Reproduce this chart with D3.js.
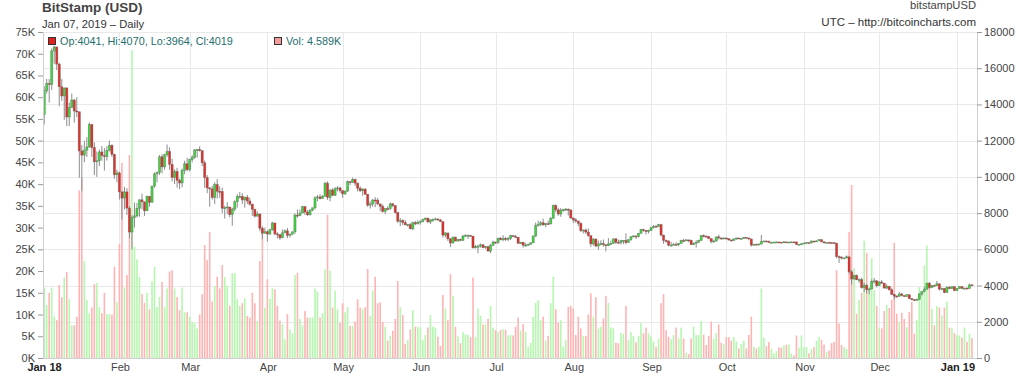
<!DOCTYPE html>
<html>
<head>
<meta charset="utf-8">
<script src="https://cdn.jsdelivr.net/npm/d3@7"></script>
<style>
 body { margin: 0; background: #fff; }
 svg { display: block; font-family: "Liberation Sans", Arial, sans-serif; }
</style>
</head>
<body>
<svg id="chart" width="1024" height="383"></svg>
<script>
// daily candles, BitStamp BTC/USD, Jan 1 2018 .. Jan 7 2019 (one value per day)
var firstDay = '2018-01-01';

var opens = [
 13880,13444,14754,15156,15100,16954,17172,16228,14976,14469,14907,13308,13842,14243,13639,13596,11431,11199,11475,11656,12900,11620,10834,10889,11378,11176,11120,11462,11742,11245,10118,
 10221,9170,8830,9174,8277,6955,7755,7850,8265,8736,8621,8130,8926,8598,9494,10166,10233,11112,10551,11225,11403,10690,9964,10301,9813,9664,10366,10725,
 10397,10951,11086,11489,11513,11450,10779,9965,9395,9337,8866,9578,9205,9194,8269,8300,8338,7916,8223,8630,8913,8929,8728,8879,8668,8495,8209,7833,7954,7165,6890,
 6973,6844,7083,7456,6853,6811,6636,6911,7023,6770,6834,6968,7889,7870,8003,8355,8058,7902,8163,8294,8845,8895,8802,8930,9652,8864,9279,8979,9342,9392,
 9244,9067,9219,9738,9700,9858,9655,9373,9235,9325,9043,8441,8505,8723,8716,8510,8368,8094,8250,8247,8513,8418,8041,7557,7587,7480,7355,7368,7135,7472,7406,
 7494,7541,7643,7720,7514,7633,7653,7678,7624,7531,6786,6906,6582,6349,6675,6456,6550,6499,6734,6769,6776,6729,6083,6162,6173,6250,6093,6157,5903,6218,
 6404,6385,6614,6529,6597,6540,6603,6756,6710,6670,6329,6394,6228,6238,6276,6359,6741,7321,7370,7467,7354,7419,7400,7711,8424,8182,7951,8165,8200,8218,8180,
 7730,7625,7567,7434,7032,7068,6951,6753,6305,6568,6184,6295,6322,6255,6199,6308,6334,6580,6390,6375,6480,6490,6376,6534,6700,6740,6707,6890,7096,7047,6978,
 7037,7193,7272,7260,7361,6792,6490,6467,6225,6239,6276,6260,6326,6488,6486,6520,6502,6259,6335,6388,6488,6756,6721,6710,6596,6434,6454,6688,6633,6592,
 6626,6590,6520,6482,6574,6627,6576,6602,6660,6630,6575,6234,6281,6280,6291,6440,6460,6446,6378,6379,6400,6406,6396,6391,6412,6400,6402,6411,6410,6268,6276,
 6309,6348,6373,6355,6460,6420,6470,6535,6415,6356,6383,6375,6370,6340,5600,5575,5515,5523,5588,4757,4362,4556,4322,4324,3882,4008,3772,3809,4220,4259,
 3996,4196,4135,3863,3962,3763,3504,3418,3403,3534,3450,3400,3495,3278,3220,3198,3222,3535,3670,3800,4133,3887,4010,3990,4100,3800,3840,3610,3910,3830,3940,
 3718,3844,3943,3837,3859,3837,4041
];

var highs = [
 13950,15000,15400,15400,17100,17252,17200,16300,15400,14950,14950,14100,14600,14300,14400,13600,11750,12000,12200,13000,12900,11900,11400,11500,11700,11600,11700,12000,11800,11280,10400,
 10300,9200,9450,9380,8390,7880,8580,8560,8750,9080,8630,8980,8940,9500,10250,10300,11200,11250,11280,11790,11630,11000,10420,10500,9900,10460,10890,11060,
 11000,11200,11530,11550,11690,11450,10900,10100,9420,9500,9700,9880,9480,9400,8400,8600,8350,8300,8700,9050,9170,9100,8900,9000,8850,8520,8250,8100,7970,7280,7200,
 7050,7130,7520,7460,6950,6850,7100,7100,7180,6880,6980,8000,8200,8200,8400,8400,8160,8220,8300,8930,9000,9050,8990,9730,9760,9300,9380,9440,9500,9450,
 9250,9250,9800,9760,9950,9900,9680,9480,9370,9380,9040,8650,8770,8880,8840,8510,8480,8270,8380,8580,8560,8420,8040,7730,7660,7610,7400,7450,7530,7560,7600,
 7600,7700,7760,7750,7660,7700,7750,7700,7680,7540,6950,6910,6620,6700,6690,6580,6590,6800,6840,6820,6790,6740,6240,6260,6320,6280,6180,6170,6300,6480,
 6420,6640,6680,6780,6690,6680,6800,6780,6790,6680,6400,6400,6340,6320,6400,6750,7480,7590,7560,7690,7450,7580,7790,8470,8480,8300,8280,8230,8280,8260,8180,
 7760,7720,7570,7490,7090,7150,7150,6760,6620,6600,6480,6500,6540,6260,6620,6480,6590,6620,6540,6530,6500,6880,6540,6720,6780,6760,6900,7130,7140,7060,7080,
 7240,7340,7340,7410,7400,6800,6540,6480,6420,6350,6390,6340,6530,6580,6560,6530,6540,6380,6500,6530,6780,6830,6780,6720,6600,6540,6700,6800,6640,6650,
 6660,6610,6530,6600,6640,6630,6620,6690,6660,6630,6580,6300,6310,6330,6800,6480,6480,6480,6420,6420,6440,6420,6410,6460,6420,6420,6430,6420,6420,6300,6330,
 6370,6400,6380,6490,6460,6480,6550,6540,6430,6390,6400,6380,6380,6360,5660,5600,5550,5660,5590,4870,4600,4610,4400,4440,4160,4100,3860,4340,4420,4310,
 4250,4310,4140,4070,3970,3880,3560,3470,3640,3600,3460,3530,3500,3300,3240,3290,3580,3680,3930,4150,4200,4030,4050,4250,4100,3890,3850,3950,3960,3970,3950,
 3860,3960,3950,3880,3900,4100,4070
];

var lows = [
 12750,12900,14600,14100,14800,16250,15900,13900,14200,13150,12800,12800,13800,13000,13300,9950,9200,10800,11100,11600,11100,10100,10000,10600,10900,10350,10900,11400,11100,9900,9700,
 8750,7650,8200,7900,6600,6000,7200,7750,7800,8200,7850,8130,8360,8560,9400,9700,10100,10200,10400,11100,10400,9750,9600,9400,9320,9420,10150,10300,
 10300,10800,11000,11050,11400,10600,9400,9100,8350,8750,8500,8800,8850,8000,7700,7950,7770,7300,8100,8300,8800,8500,8300,8500,8400,7850,7750,7800,7000,6560,6860,
 6430,6800,7020,6770,6600,6520,6610,6900,6620,6660,6800,6850,7750,7830,8000,7900,7850,7880,8100,8200,8650,8750,8800,8920,8730,8650,8960,8950,9200,9120,
 8850,9000,9170,9550,9680,9500,9200,9160,8960,9010,8350,8250,8350,8330,8450,8110,8030,7940,8150,8180,8330,7970,7450,7280,7340,7330,7250,7100,7060,7330,7380,
 7360,7480,7600,7460,7400,7520,7640,7560,7500,6650,6660,6460,6120,6320,6450,6420,6450,6450,6700,6570,6700,6050,6050,5780,6100,6060,6030,5880,5790,6200,
 6300,6290,6500,6440,6460,6450,6520,6690,6660,6320,6300,6100,6150,6200,6260,6340,6680,7250,7280,7300,7220,7380,7390,7700,8050,7850,7800,8070,8120,7870,7700,
 7450,7470,7280,6950,6880,6850,6690,6130,6200,6110,5970,6220,6150,5880,6180,6240,6310,6290,6310,6260,6290,6280,6350,6470,6670,6570,6650,6860,6980,6820,6880,
 7010,7150,7220,7240,6700,6300,6360,6170,6150,6230,6200,6180,6320,6400,6470,6400,6250,6240,6100,6370,6480,6660,6680,6560,6330,6400,6440,6540,6520,6560,
 6560,6480,6420,6470,6530,6560,6550,6580,6600,6500,6150,6200,6260,6260,6270,6410,6420,6360,6360,6370,6390,6380,6350,6380,6380,6380,6395,6395,6230,6250,6250,
 6290,6330,6330,6330,6380,6400,6460,6390,6330,6350,6340,6330,6300,5500,5250,5450,5480,5510,4650,4050,4330,4300,4150,3830,3650,3560,3520,3800,4110,3900,
 3980,4100,3830,3800,3740,3490,3230,3340,3400,3400,3370,3390,3250,3180,3150,3180,3210,3440,3650,3770,3820,3850,3940,3980,3740,3740,3580,3600,3800,3820,3690,
 3700,3820,3800,3780,3820,3820,3964
];

var closes = [
 13444,14754,15156,15100,16954,17172,16228,14976,14469,14907,13308,13842,14243,13639,13596,11431,11199,11475,11656,12900,11620,10834,10889,11378,11176,11120,11462,11742,11245,10118,10221,
 9170,8830,9174,8277,6955,7755,7850,8265,8736,8621,8130,8926,8598,9494,10166,10233,11112,10551,11225,11403,10690,9964,10301,9813,9664,10366,10725,10397,
 10951,11086,11489,11513,11450,10779,9965,9395,9337,8866,9578,9205,9194,8269,8300,8338,7916,8223,8630,8913,8929,8728,8879,8668,8495,8209,7833,7954,7165,6890,6973,
 6844,7083,7456,6853,6811,6636,6911,7023,6770,6834,6968,7889,7870,8003,8355,8058,7902,8163,8294,8845,8895,8802,8930,9652,8864,9279,8979,9342,9392,9244,
 9067,9219,9738,9700,9858,9655,9373,9235,9325,9043,8441,8505,8723,8716,8510,8368,8094,8250,8247,8513,8418,8041,7557,7587,7480,7355,7368,7135,7472,7406,7494,
 7541,7643,7720,7514,7633,7653,7678,7624,7531,6786,6906,6582,6349,6675,6456,6550,6499,6734,6769,6776,6729,6083,6162,6173,6250,6093,6157,5903,6218,6404,
 6385,6614,6529,6597,6540,6603,6756,6710,6670,6329,6394,6228,6238,6276,6359,6741,7321,7370,7467,7354,7419,7400,7711,8424,8182,7951,8165,8200,8218,8180,7730,
 7625,7567,7434,7032,7068,6951,6753,6305,6568,6184,6295,6322,6255,6199,6308,6334,6580,6390,6375,6480,6490,6376,6534,6700,6740,6707,6890,7096,7047,6978,7037,
 7193,7272,7260,7361,6792,6490,6467,6225,6239,6276,6260,6326,6488,6486,6520,6502,6259,6335,6388,6488,6756,6721,6710,6596,6434,6454,6688,6633,6592,6626,
 6590,6520,6482,6574,6627,6576,6602,6660,6630,6575,6234,6281,6280,6291,6440,6460,6446,6378,6379,6400,6406,6396,6391,6412,6400,6402,6411,6410,6268,6276,6309,
 6348,6373,6355,6460,6420,6470,6535,6415,6356,6383,6375,6370,6340,5600,5575,5515,5523,5588,4757,4362,4556,4322,4324,3882,4008,3772,3809,4220,4259,3996,
 4196,4135,3863,3962,3763,3504,3418,3403,3534,3450,3400,3495,3278,3220,3198,3222,3535,3670,3800,4133,3887,4010,3990,4100,3800,3840,3610,3910,3830,3940,3718,
 3844,3943,3837,3859,3837,4041,4019
];

// volume in thousands of BTC
var volumes = [
 9,16.2,12.2,15,16.2,9.5,8.7,16.8,14,18.5,19.8,13.5,7.5,7.5,9.5,38.6,41.4,22.3,13.3,10.3,11.6,17,17.3,11.7,10.3,15,10.1,10.1,10,21,12.8,
 26.2,44.9,16.2,19.1,46.7,70.8,25.6,22.7,18.6,14.7,12.7,15,11.2,17.6,21,11.7,14,17.5,11.7,16,19.9,20.2,16,14,11,16.2,10.5,10.5,
 9.5,8.3,8,6.8,10,14.7,26,22.5,29,13,16.6,18.7,16,21.4,18.6,16.6,12,19.5,19.5,13.5,12,12.6,13.7,9.7,9.3,15,12.6,8.5,22.3,30,11.6,
 18.1,13.6,16,15.8,12,8.6,7.8,4.3,10.1,6.6,5.7,19.1,19.6,9,7.5,10.8,9.3,9.3,9.3,16,15.3,9.3,10.3,20.4,33,20.1,11.6,15.5,11.2,8.1,
 12.6,10.5,11.7,7.4,7.4,8.4,13.5,11.6,11.2,11.7,20.5,9.7,15.5,18.7,12.6,12.8,8.3,7.2,4,5.1,6.3,9,17.7,11.7,9.9,3.2,4.1,6.6,11,7.2,7.2,
 7,4.1,5.3,7,9.9,7.2,7,4.9,2.8,14.5,11.4,8.7,19.3,14.3,7.2,5,3.4,5.9,5.4,5.3,4.8,18.5,4.8,11.4,9.7,7.7,7.7,9,12,7,
 6.4,6,6.4,6.6,6.5,5.2,5.3,5.2,7.2,9.3,6.3,7.8,6,2.5,3.5,9.5,12.7,13.3,8.7,9.5,4,5.1,12.6,18.7,11.2,8.1,8.7,2.6,4.1,11.8,12,
 11.4,5.3,9.5,6.8,5.1,5.1,10,14.9,9.5,14,6.8,7.2,9.1,14.3,12.7,7,6.8,3.5,3.4,5.8,5.5,12,4.1,6,5.1,3.6,5.1,8,5.7,7,5.7,
 5,3.8,2.5,4.5,12.6,14.7,6.4,4.9,4.3,5.3,7,4.5,7,4.5,1.2,0.9,4.5,7.2,5.3,5.3,8.5,5.4,3,5.1,8.4,4.4,5.7,7.7,3.5,3.2,
 4.8,4.8,4,4.8,3.8,2.2,3.2,4,2.2,5.3,9.5,2.6,2.2,2.6,16,4.7,2.7,3.7,2.1,1.1,1.6,2.4,2.4,2.9,3.1,3.1,1,0.6,5.2,2.4,5.2,
 2.5,2.5,1.1,2.1,2.5,4,4.8,4.2,3.1,1.4,1.7,3.4,3.7,20.2,7.9,3,2.5,2.1,29,39.8,20.6,10.2,13.3,15,27,24.2,16.3,22.9,15.6,12,
 7,6.8,10.8,12.2,11.5,13.4,26.5,10.2,8.3,10.4,9,7.1,10.6,12.9,5.6,8.7,16.3,15.2,21.3,25.9,17.1,11.3,7.5,11.9,11.6,9.8,11.6,13,7,6.8,5.7,
 5.2,5.2,4.7,7,3.7,5.6,4.589
];

var priceTicks = [0,2000,4000,6000,8000,10000,12000,14000,16000,18000];
var volumeTicks = [0,5,10,15,20,25,30,35,40,45,50,55,60,65,70,75];
var monthLabels = ['Jan 18','Feb','Mar','Apr','May','Jun','Jul','Aug','Sep','Oct','Nov','Dec','Jan 19'];

var titleText = 'BitStamp (USD)';
var subText = 'Jan 07, 2019 \u2013 Daily';
var symbolText = 'bitstampUSD';
var sourceText = 'UTC \u2013 http://bitcoincharts.com';
var legendText = 'Op:4041, Hi:4070, Lo:3964, Cl:4019';
var volLegendText = 'Vol: 4.589K';

// plot frame
var plot = { left: 43, right: 977, top: 32, bottom: 358 };
var upColor = '#3fd33f', downColor = '#e0312b';
var upVol = '#b4f7ae', downVol = '#ffb3b3';

var start = d3.utcParse('%Y-%m-%d')(firstDay);
var days = closes.map(function(c, i) {
 return { date: d3.utcDay.offset(start, i), o: opens[i], h: highs[i], l: lows[i], c: c, v: volumes[i] };
});

var svg = d3.select('#chart');

var x = d3.scaleUtc()
 .domain([new Date(Date.UTC(2018, 0, 1, 12, 30)), new Date(Date.UTC(2019, 0, 9))])
 .range([plot.left, plot.right]);
var yPrice = d3.scaleLinear().domain([0, 18000]).range([plot.bottom, plot.top]);
var yVol = d3.scaleLinear().domain([0, 75]).range([plot.bottom, plot.top]);

svg.append('defs').append('clipPath').attr('id', 'plotClip')
 .append('rect')
 .attr('x', plot.left).attr('y', plot.top)
 .attr('width', plot.right - plot.left).attr('height', plot.bottom - plot.top);

// grid
var grid = svg.append('g').attr('class', 'grid');
grid.selectAll('line.h').data(priceTicks).enter().append('line')
 .attr('x1', plot.left).attr('x2', plot.right)
 .attr('y1', function(d) { return Math.round(yPrice(d)) + 0.5; })
 .attr('y2', function(d) { return Math.round(yPrice(d)) + 0.5; })
 .style('stroke', '#e9e9e9');

var monthStarts = d3.utcMonths(new Date(Date.UTC(2018, 0, 1)), new Date(Date.UTC(2019, 0, 2)));
grid.selectAll('line.v').data(monthStarts.filter(function(d) { return x(d) > plot.left; }))
 .enter().append('line')
 .attr('x1', function(d) { return Math.round(x(d)) + 0.5; })
 .attr('x2', function(d) { return Math.round(x(d)) + 0.5; })
 .attr('y1', plot.top).attr('y2', plot.bottom)
 .style('stroke', '#e9e9e9');

var marks = svg.append('g').attr('clip-path', 'url(#plotClip)');

// volume bars (behind candles)
marks.append('g').selectAll('rect').data(days).enter().append('rect')
 .attr('x', function(d) { return x(d.date) - 0.8; })
 .attr('width', 1.6)
 .attr('y', function(d) { return yVol(d.v); })
 .attr('height', function(d) { return plot.bottom - yVol(d.v); })
 .style('fill', function(d) { return d.c >= d.o ? upVol : downVol; });

// candles: wick + body
var candle = marks.append('g').selectAll('g').data(days).enter().append('g');
candle.append('line')
 .attr('x1', function(d) { return x(d.date); })
 .attr('x2', function(d) { return x(d.date); })
 .attr('y1', function(d) { return yPrice(d.h); })
 .attr('y2', function(d) { return yPrice(d.l); })
 .style('stroke', '#8c8c8c')
 .style('stroke-width', '1px');
candle.append('rect')
 .attr('x', function(d) { return x(d.date) - 1.1; })
 .attr('width', 2.2)
 .attr('y', function(d) { return yPrice(Math.max(d.o, d.c)); })
 .attr('height', function(d) { return Math.max(1, Math.abs(yPrice(d.o) - yPrice(d.c))); })
 .style('fill', function(d) { return d.c >= d.o ? upColor : downColor; })
 .style('stroke', 'rgba(90,90,90,0.55)')
 .style('stroke-width', '0.6px');

// axes
var axisColor = '#cfcfcf';
var leftAxis = svg.append('g')
 .attr('transform', 'translate(' + plot.left + ',0)')
 .call(d3.axisLeft(yVol).tickValues(volumeTicks).tickSize(5).tickPadding(3)
  .tickFormat(function(d) { return d + 'K'; }));
var rightAxis = svg.append('g')
 .attr('transform', 'translate(' + plot.right + ',0)')
 .call(d3.axisRight(yPrice).tickValues(priceTicks).tickSize(5).tickPadding(2)
  .tickFormat(d3.format('d')));
[leftAxis, rightAxis].forEach(function(a) {
 a.select('.domain').style('stroke', axisColor);
 a.selectAll('.tick line').style('stroke', '#999');
 a.selectAll('.tick text').style('fill', '#444').style('font-size', '11px')
  .style('font-family', '"Liberation Sans", Arial, sans-serif');
});

svg.append('line')
 .attr('x1', plot.left).attr('x2', plot.right)
 .attr('y1', plot.bottom + 0.5).attr('y2', plot.bottom + 0.5)
 .style('stroke', axisColor);

// month labels
svg.append('g').selectAll('text').data(monthStarts).enter().append('text')
 .attr('x', function(d) { return Math.max(x(d) + 1, 44.5); })
 .attr('y', 371)
 .attr('text-anchor', 'middle')
 .style('font-size', '11px')
 .style('font-weight', function(d, i) { return (i == 0 || i == 12) ? 'bold' : 'normal'; })
 .style('fill', function(d, i) { return (i == 0 || i == 12) ? '#222' : '#444'; })
 .text(function(d, i) { return monthLabels[i]; });

// header texts
svg.append('text').attr('x', 42).attr('y', 12)
 .style('font-size', '13.5px').style('font-weight', 'bold').style('fill', '#444')
 .text(titleText);
svg.append('text').attr('x', 42).attr('y', 28)
 .style('font-size', '11.2px').style('fill', '#333')
 .text(subText);
svg.append('text').attr('x', 976).attr('y', 9).attr('text-anchor', 'end')
 .style('font-size', '11.2px').style('fill', '#444')
 .text(symbolText);
svg.append('text').attr('x', 976).attr('y', 26).attr('text-anchor', 'end')
 .style('font-size', '11.5px').style('fill', '#333')
 .text(sourceText);

// legend inside plot
var legend = svg.append('g');
legend.append('rect').attr('x', 48.5).attr('y', 37.5).attr('width', 7).attr('height', 7)
 .style('fill', '#e4201c').style('stroke', '#333');
legend.append('text').attr('x', 60).attr('y', 45)
 .style('font-size', '10.8px').style('fill', '#1d6e6e')
 .text(legendText);
legend.append('rect').attr('x', 274.5).attr('y', 37.5).attr('width', 7).attr('height', 7)
 .style('fill', '#f49a9a').style('stroke', '#333');
legend.append('text').attr('x', 286).attr('y', 45)
 .style('font-size', '10.8px').style('fill', '#1d6e6e')
 .text(volLegendText);
</script>
</body>
</html>
